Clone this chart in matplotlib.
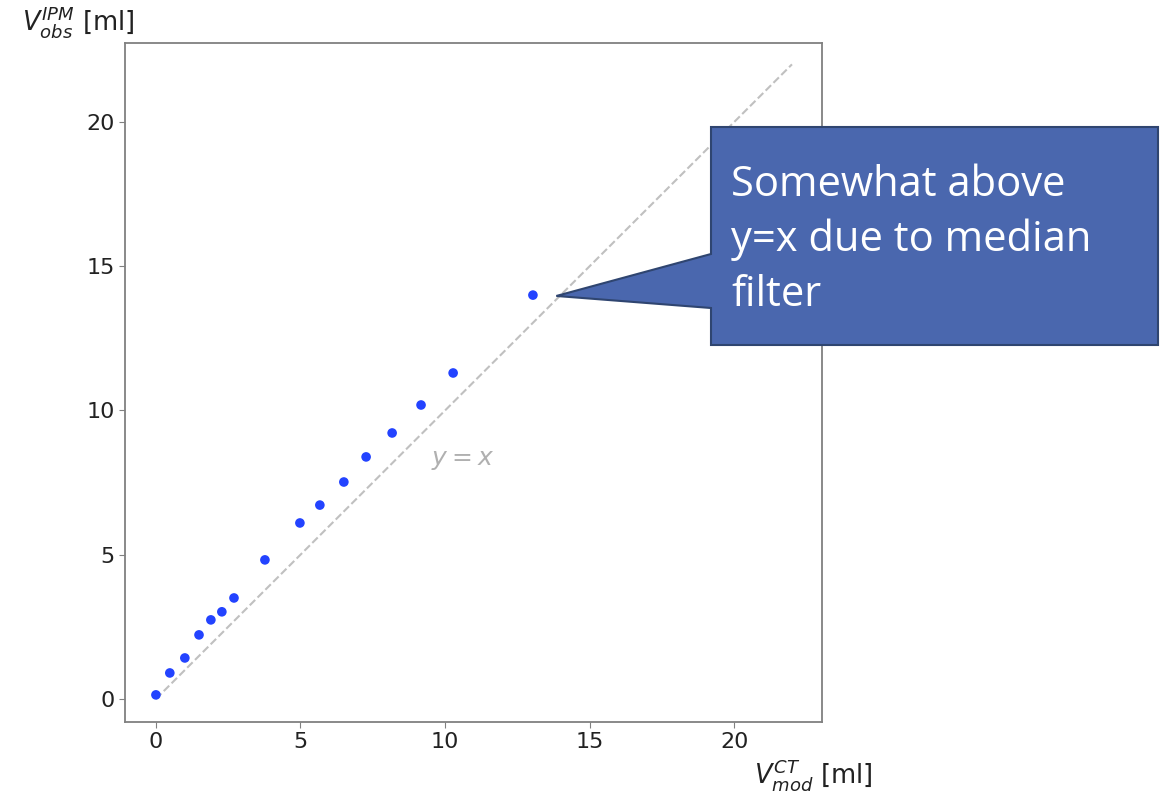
import matplotlib.pyplot as plt
from matplotlib.patches import Polygon

# measured volumes [ml]
v_ct_mod = [0.0, 0.48, 1.0, 1.49, 1.9, 2.28, 2.7, 3.77, 4.98, 5.67, 6.5, 7.27, 8.17, 9.17, 10.28, 13.04]
v_ipm_obs = [0.14, 0.9, 1.42, 2.22, 2.74, 3.02, 3.5, 4.82, 6.1, 6.72, 7.52, 8.39, 9.22, 10.19, 11.3, 14.0]
line_range = [0, 22]
ticks = [0, 5, 10, 15, 20]
callout_text = "Somewhat above\ny=x due to median\nfilter"

fig = plt.figure(figsize=(11.66, 7.92), dpi=100)
ax = fig.add_axes([0.1072, 0.0884, 0.5978, 0.8573])

ax.plot(line_range, line_range, linestyle='--', color='#c0c0c0', linewidth=1.5, zorder=1)
ax.scatter(v_ct_mod, v_ipm_obs, s=48, color='#2343ff', edgecolors='none', zorder=3)
ax.text(10.6, 8.28, '$y=x$', color='#b0b0b0', fontsize=18, ha='center', va='center')

ax.set_xlim(-1.07, 23.04)
ax.set_ylim(-0.8, 22.74)
ax.set_xticks(ticks)
ax.set_yticks(ticks)
ax.tick_params(labelsize=16, colors='#808080', labelcolor='#222222', length=4)
for s in ax.spines.values():
    s.set_color('#808080')
    s.set_linewidth(1.3)

fig.text(0.019, 0.972, r'$V^{IPM}_{obs}$ [ml]', fontsize=18.5, color='#222222', ha='left', va='center')
fig.text(0.647, 0.022, r'$V^{CT}_{mod}$ [ml]', fontsize=18.5, color='#222222', ha='left', va='center')

# callout box with pointer
W, H = 1166.0, 792.0
tip = fig.transFigure.inverted().transform(ax.transData.transform((13.85, 13.97)))
pix = [(711, 127), (1158, 127), (1158, 345), (711, 345), (711, 308)]
pts = [(x / W, 1 - y / H) for x, y in pix] + [tuple(tip)] + [(711 / W, 1 - 254 / H)]
fig.patches.append(Polygon(pts, closed=True, transform=fig.transFigure,
                           facecolor='#4a67ae', edgecolor='#2f4570', linewidth=1.5))
fig.text(731 / W, 1 - 240 / H, callout_text, fontsize=30, color='white', family='Open Sans',
         ha='left', va='center', linespacing=1.38)

fig.savefig('out.png', dpi=100)
